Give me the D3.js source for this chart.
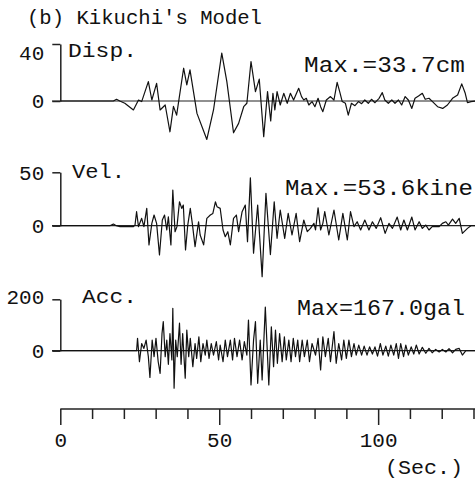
<!DOCTYPE html>
<html>
<head>
<meta charset="utf-8">
<script src="https://cdn.jsdelivr.net/npm/d3@7"></script>
<style>
  body { margin: 0; background: #fff; }
  svg text { font-family: "Liberation Mono", "DejaVu Sans Mono", monospace; fill: #111; }
</style>
</head>
<body>
<div class="graphContainer"></div>
<script>
var width = 475;
var height = 484;

// time axis (sec.)
var timeTicks = [0, 10, 20, 30, 40, 50, 60, 70, 80, 90, 100, 110, 120, 130];
var timeLabels = [0, 50, 100];

// displacement (cm), [time, value]
var dispData = [[0,0],[16.7,0],[17.7,1.2],[18.7,0],[20.3,-1.6],[23.0,-6.3],[24.6,0.7],[25.6,-0.4],
  [27.7,13.6],[28.8,0.7],[30.3,12.4],[31.4,-6.3],[33.0,-2.8],[34.5,-21.6],[35.6,-3.8],[36.6,-9.9],
  [38.8,23.0],[39.8,11.3],[40.8,21.8],[43.0,-8.7],[46.1,-27.0],[48.2,-6.3],[50.8,33.6],[52.4,13.6],
  [54.5,-22.3],[56.1,-15.7],[57.7,-4.0],[58.7,-1.6],[60.0,27.7],[61.4,6.6],[62.6,15.3],[64.0,-25.1],
  [65.2,6.6],[66.2,-14],[66.9,5.4],[67.5,-6.3],[68.2,6.6],[69.2,-2.8],[70.3,5.4],[71.4,-1.6],
  [72.4,5.4],[73.4,0.7],[75.0,8.9],[75.9,3.1],[76.6,0.7],[77.4,1.9],[78.2,-2.8],[79.2,-0.4],
  [80.1,-4],[81.1,1.9],[81.9,-4],[82.6,-7.5],[83.7,0.7],[85.0,3.1],[86.1,0.7],[87.1,13.1],
  [87.9,6.6],[88.7,-0.4],[89.7,-1.6],[90.6,-9.9],[91.6,-1.6],[92.7,-3.3],[93.8,-0.4],[94.8,-1.9],
  [95.8,0.7],[96.9,-1.6],[97.9,1.2],[99.0,-1.2],[100.3,1.9],[101.3,5.9],[102.1,0.7],[103.2,-1.6],
  [104.3,0.7],[105.3,-1.6],[106.4,0.7],[107.4,-2.8],[108.5,3.1],[109.5,0.7],[110.6,-5.2],[111.6,1.9],
  [112.7,3.5],[113.9,5.4],[114.8,1.2],[116.0,1.9],[117.1,-0.4],[118.7,-4],[120.3,-5.2],[121.8,-2.8],
  [123.4,1.9],[125.0,4.2],[126.3,12.0],[127.4,5.4],[128.1,-1.2],[129.2,-0.4],[130.8,0]];

// velocity (kine)
var velData = [[0,0],[15.6,0],[16.7,1.6],[17.6,0],[18.8,-0.9],[23.0,-0.9],[23.5,0.6],[24.0,13.1],
  [24.6,-0.9],[25.6,6.9],[26.3,-0.9],[27.2,16.2],[27.9,-18.0],[28.8,2.2],[29.5,10.0],[30.3,2.2],
  [31.2,-27.4],[32.1,5.3],[32.8,10.0],[33.5,-4.0],[34.0,8.4],[34.8,-18.0],[35.4,33.4],[36.1,-5.6],
  [36.7,-0.9],[37.5,22.4],[38.2,16.2],[38.7,19.3],[39.4,-22.7],[40.1,0.6],[40.9,16.2],[41.6,0.6],
  [42.4,-19.6],[43.5,3.7],[44.0,-8.7],[45.1,-18.0],[46.1,6.9],[47.2,10.0],[48.0,11.5],[48.8,22.4],
  [49.3,17.8],[50.3,16.2],[51.2,-4.0],[51.9,-10.3],[52.7,-5.6],[53.5,-18.0],[54.5,6.9],[55.4,10.0],
  [56.1,-5.6],[57.2,13.1],[58.2,19.3],[58.9,-14.9],[59.8,44.9],[60.8,-25.8],[62.1,19.3],[63.5,-47.7],
  [64.7,30.3],[66.1,-27],[67.3,22.4],[68.2,-11.8],[69.2,14.7],[70.6,-11.8],[71.7,11.6],[72.9,-8.7],
  [74.2,11.6],[75.3,-15],[76.6,5.3],[77.7,-5.6],[78.7,-2.5],[79.8,2.2],[80.3,-4],[81.1,16.8],
  [81.9,-4],[82.6,2.2],[83.2,13.1],[84.5,-8.7],[86.1,14.7],[87.6,-13.4],[88.9,11.6],[90.3,-13.4],
  [91.3,13.1],[92.4,-0.9],[93.4,3.7],[94.5,-4],[95.8,5.3],[97.1,-4],[98.2,3.7],[99.4,-2.5],
  [100.8,7.5],[102.2,-7.2],[103.4,2.2],[104.5,-2.5],[106.0,8.1],[107.1,-4],[108.1,5.3],[109.2,-4],
  [110.6,8.1],[111.6,-4],[112.9,3.7],[113.9,-2.5],[115.0,0.6],[116.0,-4],[117.0,-0.9],[119.2,-0.9],
  [120.2,2.2],[121.3,3.7],[122.1,0.6],[123.4,6.2],[124.4,2.2],[125.5,6.9],[126.5,-7.2],[128.1,-2.5],
  [129.2,0],[130.8,0]];

// acceleration (gal)
var accData = [[0,0],[24.0,0],[24.3,48],[24.9,-43],[25.6,28],[26.3,9],[27.0,41],[27.7,-23],
  [28.2,-104],[28.9,41],[29.5,-23],[30.1,48],[30.8,-43],[31.4,-88],[32.0,67],[32.4,113],[33.0,-23],
  [33.5,41],[34.0,-53],[34.5,67],[35.1,-36],[35.4,165],[35.8,-146],[36.3,41],[36.8,-23],[37.5,107],
  [38.0,-53],[38.5,67],[39.3,-107],[39.8,80],[40.4,-23],[40.9,48],[41.7,-62],[42.4,28],[42.9,-30],
  [43.6,54],[44.2,-43],[44.9,28],[45.6,-17],[46.1,41],[46.8,-30],[47.5,28],[48.2,-17],[49.1,35],
  [49.8,-36],[50.3,22],[51.2,-43],[51.9,41],[52.6,-23],[53.5,41],[54.2,-36],[54.8,48],[55.6,-23],
  [56.4,41],[57.2,-36],[57.9,35],[58.7,-17],[59.2,119],[60.0,-133],[60.8,41],[61.4,113],[62.1,-127],
  [62.9,41],[63.5,-114],[64.5,170],[65.6,-133],[66.4,93],[67.1,-62],[67.7,80],[68.3,-49],[69.0,67],
  [69.8,-43],[70.5,54],[71.1,-36],[71.9,41],[72.6,-43],[73.3,48],[74.0,-23],[74.7,41],[75.3,-43],
  [76.1,41],[76.8,-23],[77.7,41],[78.4,-43],[79.2,28],[80.3,-17],[81.1,48],[81.9,-75],[82.6,54],
  [83.4,-23],[84.3,48],[85.0,-43],[86.1,74],[86.8,-49],[87.6,28],[88.5,-36],[89.2,41],[90.0,-30],
  [90.8,41],[91.6,-23],[92.4,28],[93.1,-17],[93.9,22],[94.8,-17],[95.6,18],[96.5,-17],[97.3,15],
  [98.2,-13],[99.0,15],[99.8,-21],[100.7,28],[101.5,-17],[102.4,18],[103.2,-21],[104.0,22],
  [104.9,-17],[105.7,28],[106.4,-30],[107.1,28],[108.0,-23],[108.7,22],[109.5,-17],[110.4,15],
  [111.2,-13],[112.0,22],[112.9,-13],[113.9,13],[115.0,-10],[116.0,9],[117.0,-8],[118.1,5],
  [119.2,-5],[120.2,5],[121.3,-5],[122.3,8],[123.4,-8],[124.4,5],[125.5,9],[126.5,-17],[127.6,0],
  [130.8,0]];

var panelNames = ["Disp.", "Vel.", "Acc."];
var panelTops = [40, 50, 200];
var panelMax = ["Max.=33.7cm", "Max.=53.6kine", "Max=167.0gal"];

var svg = d3
  .select(".graphContainer")
  .append("svg")
  .attr("width", width)
  .attr("height", height);

var xScale = d3.scaleLinear().domain([0, 130]).range([60.3, 473.5]);

// title
svg
  .append("text")
  .attr("x", 27)
  .attr("y", 24)
  .attr("textLength", 235)
  .attr("lengthAdjust", "spacingAndGlyphs")
  .style("font-size", "21px")
  .text("(b) Kikuchi's Model");

// one panel per trace
var panels = [
  { data: dispData, zero: 101, topY: 44, lab: [68, 57, 69], max: [304, 72, 161], dy: "0.75em" },
  { data: velData, zero: 225.7, topY: 172.3, lab: [72, 178, 53], max: [285, 195, 188], dy: "0.32em" },
  { data: accData, zero: 350.7, topY: 299.3, lab: [82, 303, 55], max: [297, 315, 168], dy: "0.2em" }
];

panels.forEach(function (p, i) {
  var yScale = d3.scaleLinear().domain([0, panelTops[i]]).range([p.zero, p.topY]);

  // zero line
  svg
    .append("line")
    .attr("x1", 52)
    .attr("x2", width)
    .attr("y1", yScale(0))
    .attr("y2", yScale(0))
    .style("stroke", "#222")
    .style("stroke-width", 1.2);

  var yAxis = d3
    .axisLeft(yScale)
    .tickValues([0, panelTops[i]])
    .tickSize(8)
    .tickSizeOuter(0)
    .tickPadding(8)
    .tickFormat(d3.format("d"));

  var g = svg
    .append("g")
    .attr("transform", "translate(" + xScale(0) + ",0)")
    .call(yAxis);
  g.selectAll("path, line").style("stroke", "#222").style("stroke-width", 1.5);
  g.selectAll("text")
    .style("font-size", "21px")
    .style("font-family", "'Liberation Mono', monospace")
    .attr("fill", "#111");
  g.selectAll(".tick")
    .filter((d) => d !== 0)
    .select("text")
    .attr("dy", p.dy);

  // trace
  var line = d3
    .line()
    .x((d) => xScale(d[0]))
    .y((d) => yScale(d[1]));

  svg
    .append("path")
    .datum(p.data)
    .attr("d", line)
    .style("fill", "none")
    .style("stroke", "#111")
    .style("stroke-width", 1.2)
    .style("stroke-linejoin", "round");

  svg
    .append("text")
    .attr("x", p.lab[0])
    .attr("y", p.lab[1])
    .attr("textLength", p.lab[2])
    .attr("lengthAdjust", "spacingAndGlyphs")
    .style("font-size", "21px")
    .text(panelNames[i]);

  svg
    .append("text")
    .attr("x", p.max[0])
    .attr("y", p.max[1])
    .attr("textLength", p.max[2])
    .attr("lengthAdjust", "spacingAndGlyphs")
    .style("font-size", "22px")
    .text(panelMax[i]);
});

// time axis
var xAxis = d3
  .axisBottom(xScale)
  .tickValues(timeTicks)
  .tickSize(10)
  .tickSizeOuter(0)
  .tickPadding(13)
  .tickFormat((d) => (timeLabels.indexOf(d) >= 0 ? d : ""));

var xAxisGroup = svg
  .append("g")
  .attr("transform", "translate(0,409)")
  .call(xAxis);

xAxisGroup.select(".domain").attr("d", "M" + xScale(0) + ",0H" + width);
xAxisGroup.selectAll("path, line").style("stroke", "#222").style("stroke-width", 1.5);
xAxisGroup
  .selectAll(".tick")
  .filter((d) => timeLabels.indexOf(d) >= 0)
  .select("line")
  .attr("y2", 16);
xAxisGroup
  .selectAll("text")
  .style("font-size", "21px")
  .style("font-family", "'Liberation Mono', monospace")
  .attr("fill", "#111");

svg
  .append("text")
  .attr("x", 385)
  .attr("y", 474)
  .attr("textLength", 78)
  .attr("lengthAdjust", "spacingAndGlyphs")
  .style("font-size", "21px")
  .text("(Sec.)");
</script>
</body>
</html>
